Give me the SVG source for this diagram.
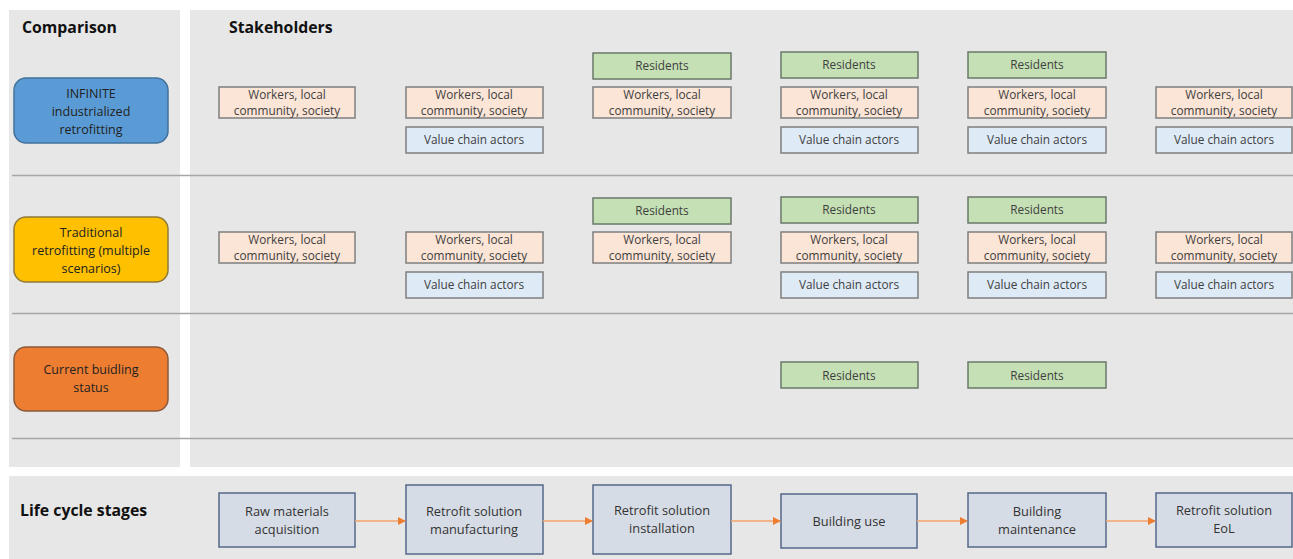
<svg xmlns="http://www.w3.org/2000/svg" width="1293" height="559" viewBox="0 0 1293 559">
<defs>
<style>
text{font-family:"Open Sans","Liberation Sans",sans-serif;fill:#404040;text-anchor:middle}
.hdr{font-size:15.8px;font-weight:bold;fill:#111;text-anchor:start}
.panel{fill:#e7e7e7}
.sep{stroke:#a6a6a6;stroke-width:1.5}
.cmp{stroke-width:1.5}
.ct{font-size:12.5px;fill:#222}
.wk{fill:#fbe5d6;stroke:#7f7f7f;stroke-width:1.5}
.rs{fill:#c5e0b4;stroke:#6b7a6b;stroke-width:1.5}
.vc{fill:#deebf7;stroke:#7f7f7f;stroke-width:1.5}
.st{font-size:11.8px}
.lc{fill:#d6dce5;stroke:#56688a;stroke-width:1.5}
.lt{font-size:12.8px;fill:#333}
.ar{stroke:#f4a46a;stroke-width:1.5;fill:none;marker-end:url(#ah)}
</style>
<marker id="ah" markerWidth="8" markerHeight="8" refX="7" refY="4" orient="auto" markerUnits="userSpaceOnUse">
<path d="M0,0 L8,4 L0,8 Z" fill="#ed7d31"/>
</marker>
</defs>
<rect width="1293" height="559" fill="#fff"/>
<g id="panels">
<rect class="panel" x="9" y="10" width="171" height="457"/>
<rect class="panel" x="190" y="10" width="1103" height="457"/>
<rect class="panel" x="9" y="476" width="1284" height="83"/>
<line class="sep" x1="12" y1="175.5" x2="1293" y2="175.5"/>
<line class="sep" x1="12" y1="313.5" x2="1293" y2="313.5"/>
<line class="sep" x1="12" y1="438.5" x2="1293" y2="438.5"/>
<text class="hdr" x="22" y="33">Comparison</text>
<text class="hdr" x="229" y="33">Stakeholders</text>
<text class="hdr" x="20" y="516">Life cycle stages</text>
</g>
<g id="cmp-infinite">
<rect class="cmp" x="14" y="78" width="154" height="65" rx="12" fill="#5b9bd5" stroke="#41719c"/>
<text class="ct" x="91" y="98">INFINITE</text>
<text class="ct" x="91" y="116">industrialized</text>
<text class="ct" x="91" y="134">retrofitting</text>
</g>
<g id="cmp-traditional">
<rect class="cmp" x="14" y="217" width="154" height="65" rx="12" fill="#ffc000" stroke="#8f7a3a"/>
<text class="ct" x="91" y="237">Traditional</text>
<text class="ct" x="91" y="255">retrofitting (multiple</text>
<text class="ct" x="91" y="273">scenarios)</text>
</g>
<g id="cmp-current">
<rect class="cmp" x="14" y="347" width="154" height="64" rx="12" fill="#ed7d31" stroke="#8a5a3a"/>
<text class="ct" x="91" y="374">Current buidling</text>
<text class="ct" x="91" y="392">status</text>
</g>
<!-- Row 1 -->
<g id="r1c1"><rect class="wk" x="219" y="87" width="136" height="31"/><text class="st" x="287" y="99">Workers, local</text><text class="st" x="287" y="115">community, society</text></g>
<g id="r1c2"><rect class="wk" x="406" y="87" width="137" height="31"/><text class="st" x="474" y="99">Workers, local</text><text class="st" x="474" y="115">community, society</text>
<rect class="vc" x="406" y="127" width="137" height="26"/><text class="st" x="474" y="144">Value chain actors</text></g>
<g id="r1c3"><rect class="rs" x="593" y="53" width="138" height="26"/><text class="st" x="662" y="70">Residents</text>
<rect class="wk" x="593" y="87" width="138" height="31"/><text class="st" x="662" y="99">Workers, local</text><text class="st" x="662" y="115">community, society</text></g>
<g id="r1c4"><rect class="rs" x="781" y="52" width="137" height="26"/><text class="st" x="849" y="69">Residents</text>
<rect class="wk" x="781" y="87" width="137" height="31"/><text class="st" x="849" y="99">Workers, local</text><text class="st" x="849" y="115">community, society</text>
<rect class="vc" x="781" y="127" width="137" height="26"/><text class="st" x="849" y="144">Value chain actors</text></g>
<g id="r1c5"><rect class="rs" x="968" y="52" width="138" height="26"/><text class="st" x="1037" y="69">Residents</text>
<rect class="wk" x="968" y="87" width="138" height="31"/><text class="st" x="1037" y="99">Workers, local</text><text class="st" x="1037" y="115">community, society</text>
<rect class="vc" x="968" y="127" width="138" height="26"/><text class="st" x="1037" y="144">Value chain actors</text></g>
<g id="r1c6"><rect class="wk" x="1156" y="87" width="136" height="31"/><text class="st" x="1224" y="99">Workers, local</text><text class="st" x="1224" y="115">community, society</text>
<rect class="vc" x="1156" y="127" width="136" height="26"/><text class="st" x="1224" y="144">Value chain actors</text></g>
<!-- Row 2 -->
<g id="r2c1"><rect class="wk" x="219" y="232" width="136" height="31"/><text class="st" x="287" y="244">Workers, local</text><text class="st" x="287" y="260">community, society</text></g>
<g id="r2c2"><rect class="wk" x="406" y="232" width="137" height="31"/><text class="st" x="474" y="244">Workers, local</text><text class="st" x="474" y="260">community, society</text>
<rect class="vc" x="406" y="272" width="137" height="26"/><text class="st" x="474" y="289">Value chain actors</text></g>
<g id="r2c3"><rect class="rs" x="593" y="198" width="138" height="26"/><text class="st" x="662" y="215">Residents</text>
<rect class="wk" x="593" y="232" width="138" height="31"/><text class="st" x="662" y="244">Workers, local</text><text class="st" x="662" y="260">community, society</text></g>
<g id="r2c4"><rect class="rs" x="781" y="197" width="137" height="26"/><text class="st" x="849" y="214">Residents</text>
<rect class="wk" x="781" y="232" width="137" height="31"/><text class="st" x="849" y="244">Workers, local</text><text class="st" x="849" y="260">community, society</text>
<rect class="vc" x="781" y="272" width="137" height="26"/><text class="st" x="849" y="289">Value chain actors</text></g>
<g id="r2c5"><rect class="rs" x="968" y="197" width="138" height="26"/><text class="st" x="1037" y="214">Residents</text>
<rect class="wk" x="968" y="232" width="138" height="31"/><text class="st" x="1037" y="244">Workers, local</text><text class="st" x="1037" y="260">community, society</text>
<rect class="vc" x="968" y="272" width="138" height="26"/><text class="st" x="1037" y="289">Value chain actors</text></g>
<g id="r2c6"><rect class="wk" x="1156" y="232" width="136" height="31"/><text class="st" x="1224" y="244">Workers, local</text><text class="st" x="1224" y="260">community, society</text>
<rect class="vc" x="1156" y="272" width="136" height="26"/><text class="st" x="1224" y="289">Value chain actors</text></g>
<!-- Row 3 -->
<g id="r3c4"><rect class="rs" x="781" y="362" width="137" height="26"/><text class="st" x="849" y="380">Residents</text></g>
<g id="r3c5"><rect class="rs" x="968" y="362" width="138" height="26"/><text class="st" x="1037" y="380">Residents</text></g>
<!-- Life cycle -->
<g id="lc1"><rect class="lc" x="219" y="493" width="136" height="54"/><text class="lt" x="287" y="516">Raw materials</text><text class="lt" x="287" y="534">acquisition</text></g>
<g id="lc2"><rect class="lc" x="406" y="485" width="137" height="69"/><text class="lt" x="474" y="516">Retrofit solution</text><text class="lt" x="474" y="534">manufacturing</text></g>
<g id="lc3"><rect class="lc" x="593" y="485" width="138" height="69"/><text class="lt" x="662" y="515">Retrofit solution</text><text class="lt" x="662" y="533">installation</text></g>
<g id="lc4"><rect class="lc" x="781" y="494" width="136" height="54"/><text class="lt" x="849" y="526">Building use</text></g>
<g id="lc5"><rect class="lc" x="968" y="493" width="138" height="54"/><text class="lt" x="1037" y="516">Building</text><text class="lt" x="1037" y="534">maintenance</text></g>
<g id="lc6"><rect class="lc" x="1156" y="493" width="136" height="54"/><text class="lt" x="1224" y="515">Retrofit solution</text><text class="lt" x="1224" y="533">EoL</text></g>
<g id="connectors">
<line class="ar" x1="355" y1="521" x2="405" y2="521"/>
<line class="ar" x1="543" y1="521" x2="592" y2="521"/>
<line class="ar" x1="731" y1="521" x2="780" y2="521"/>
<line class="ar" x1="917" y1="521" x2="967" y2="521"/>
<line class="ar" x1="1106" y1="521" x2="1155" y2="521"/>
</g>
</svg>
